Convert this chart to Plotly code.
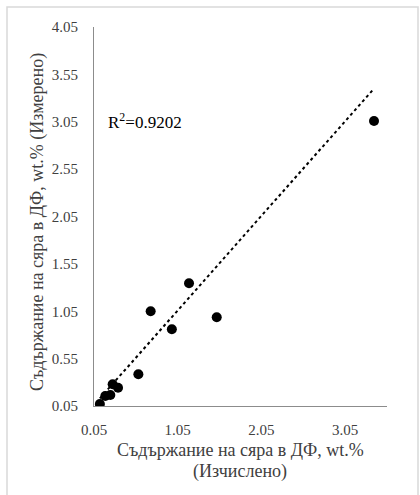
import plotly.graph_objects as go

calc = [0.12, 0.185, 0.245, 0.273, 0.337, 0.58, 0.727, 0.98, 1.185, 1.516, 3.395]
meas = [0.07, 0.155, 0.166, 0.28, 0.243, 0.385, 1.05, 0.86, 1.345, 0.986, 3.058]
trend_x = [0.12, 3.395]
trend_y = [0.13, 3.40]
x_ticks = [0.05, 1.05, 2.05, 3.05]
y_ticks = [0.05, 0.55, 1.05, 1.55, 2.05, 2.55, 3.05, 3.55, 4.05]
r2_text = "R<sup>2</sup>=0.9202"
x_title_1 = "Съдържание на сяра в ДФ, wt.%"
x_title_2 = "(Изчислено)"
y_title = "Съдържание на сяра в ДФ, wt.% (Измерено)"

W, H = 420, 495
L, R, T, B = 94, 387, 27, 406
pw, ph = R - L, B - T

def px(v):
    return (v - L) / pw

def py(v):
    return (B - v) / ph

FAM = "Liberation Serif"
TXT = "#404040"

fig = go.Figure()
fig.add_trace(go.Scatter(x=trend_x, y=trend_y, mode="lines",
                         line=dict(color="#000000", width=2, dash="dot"),
                         hoverinfo="skip", showlegend=False))
fig.add_trace(go.Scatter(x=calc, y=meas, mode="markers",
                         marker=dict(color="#000000", size=10),
                         showlegend=False))

title_font = dict(family=FAM, size=18, color=TXT)

fig.update_layout(
    width=W, height=H,
    margin=dict(l=L, r=W - R, t=T, b=H - B, pad=0),
    paper_bgcolor="white", plot_bgcolor="white",
    font=dict(family=FAM, size=15, color=TXT),
    xaxis=dict(range=[0.05, 3.55], tickvals=x_ticks, ticktext=[f"{v:.2f}" for v in x_ticks],
               showgrid=False, zeroline=False, showline=True, linecolor="#8c8c8c", linewidth=1.2,
               ticks="", ticklabelstandoff=10,
               tickfont=dict(family=FAM, size=15, color=TXT)),
    yaxis=dict(range=[0.05, 4.05], tickvals=y_ticks, ticktext=[f"{v:.2f}" for v in y_ticks],
               showgrid=False, zeroline=False, showline=True, linecolor="#8c8c8c", linewidth=1.2,
               ticks="", ticklabelstandoff=12,
               tickfont=dict(family=FAM, size=15, color=TXT)),
    annotations=[
        dict(x=px(106), y=py(121), xref="paper", yref="paper", text=r2_text,
             showarrow=False, xanchor="left", yanchor="middle",
             font=dict(family=FAM, size=17, color="#000000")),
        dict(x=px(240), y=py(450), xref="paper", yref="paper", text=x_title_1,
             showarrow=False, xanchor="center", yanchor="middle", font=title_font),
        dict(x=px(240), y=py(471), xref="paper", yref="paper", text=x_title_2,
             showarrow=False, xanchor="center", yanchor="middle", font=title_font),
        dict(x=px(37), y=py(222), xref="paper", yref="paper", text=y_title, textangle=-90,
             showarrow=False, xanchor="center", yanchor="middle", font=title_font),
    ],
    shapes=[dict(type="rect", xref="paper", yref="paper",
                 x0=px(7), x1=px(418), y0=py(505), y1=py(7),
                 line=dict(color="#d9d9d9", width=1.5), layer="below")],
)

fig.write_html("out.html")
